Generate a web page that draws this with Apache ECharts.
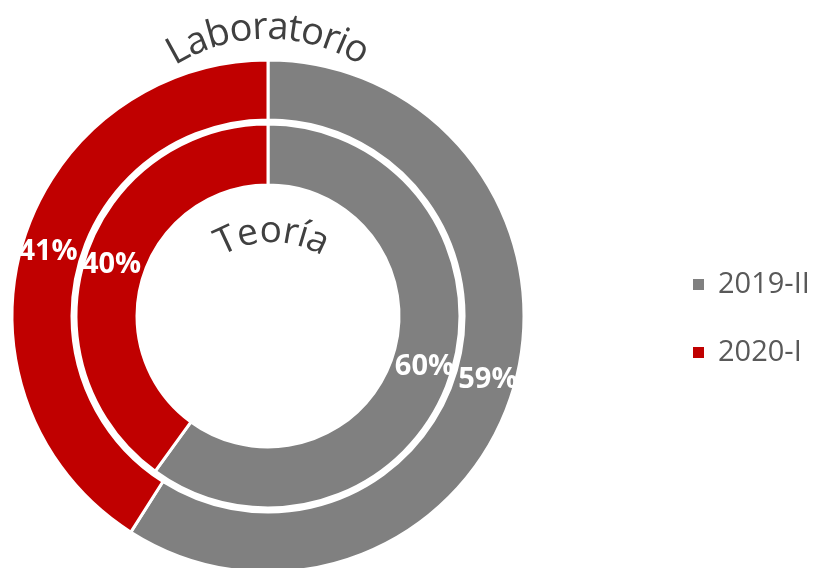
<!DOCTYPE html>
<html><head><meta charset="utf-8">
<script src="https://cdn.jsdelivr.net/npm/echarts@6/dist/echarts.min.js"></script>
<style>html,body{margin:0;padding:0;background:#fff}#c{width:821px;height:568px}</style>
</head><body><div id="c"></div>
<script>
var categories = ['2019-II', '2020-I'];
var outerValues = [59, 41];   // Laboratorio
var innerValues = [60, 40];   // Teoría
var ringNames = ['Laboratorio', 'Teoría'];
var colors = ['#808080', '#C00000'];

var cx = 268, cy = 316;

function measure(ch, font) {
  var cv = document.createElement('canvas').getContext('2d');
  cv.font = font;
  return cv.measureText(ch).width;
}
function arcText(text, font, acx, acy, r, spacing) {
  var widths = [], total = 0;
  for (var i = 0; i < text.length; i++) {
    var w = measure(text[i], font) + (i < text.length - 1 ? spacing : 0);
    widths.push(w); total += w;
  }
  var els = [];
  var pos = -total / 2;
  for (var j = 0; j < text.length; j++) {
    var mid = pos + (widths[j] - (j < text.length - 1 ? spacing : 0)) / 2;
    var th = mid / r;
    els.push({
      type: 'text',
      x: acx + r * Math.sin(th),
      y: acy - r * Math.cos(th),
      rotation: -th,
      style: { text: text[j], font: font, fill: '#404040', align: 'center', verticalAlign: 'bottom' },
      silent: true
    });
    pos += widths[j];
  }
  return els;
}

var chart = echarts.init(document.getElementById('c'));
function mk(vals) { return categories.map(function (c, i) { return { name: c, value: vals[i] }; }); }
var labelCfg = { show: true, position: 'inside', formatter: '{c}%', color: '#fff', fontFamily: 'Open Sans', fontWeight: 'bold', fontSize: 29 };
var graphics = arcText(ringNames[0], '38px "Open Sans"', 268, 215, 168, -2)
  .concat(arcText(ringNames[1], '37px "Open Sans"', 272, 340, 90, -2));
chart.setOption({
  animation: false,
  color: colors,
  legend: {
    orient: 'vertical', left: 686, top: 265, icon: 'rect', itemWidth: 13, itemHeight: 13, itemGap: 39,
    textStyle: { fontFamily: 'Open Sans', fontSize: 29, color: '#595959', padding: [0, 0, 0, 8] },
    data: categories
  },
  series: [
    { type: 'pie', name: ringNames[0], center: [cx, cy], radius: [196, 256], startAngle: 90, clockwise: true,
      itemStyle: { borderColor: '#fff', borderWidth: 3 }, label: labelCfg, labelLine: { show: false }, data: mk(outerValues) },
    { type: 'pie', name: ringNames[1], center: [cx, cy], radius: [131, 192], startAngle: 90, clockwise: true,
      itemStyle: { borderColor: '#fff', borderWidth: 3 }, label: labelCfg, labelLine: { show: false }, data: mk(innerValues) }
  ],
  graphic: graphics
});
</script></body></html>
